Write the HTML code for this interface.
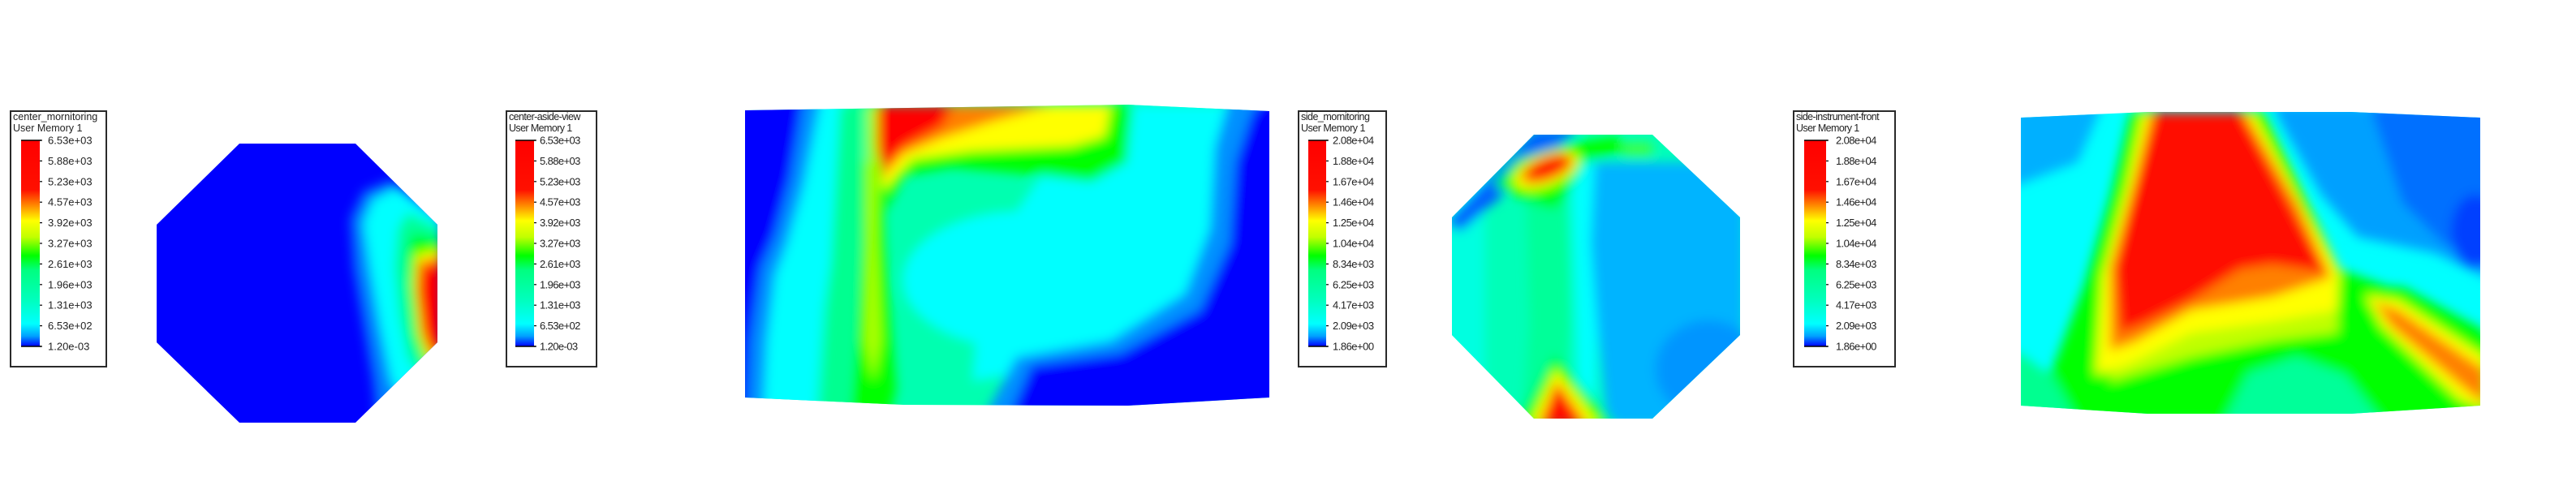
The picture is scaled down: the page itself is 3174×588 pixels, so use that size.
<!DOCTYPE html>
<html><head><meta charset="utf-8"><title>User Memory contours</title>
<style>
html,body{margin:0;padding:0;background:#fff;}
svg{display:block;}
text{font-family:"Liberation Sans",sans-serif;fill:#222;}
</style></head>
<body>
<svg id="root" width="3174" height="588" viewBox="0 0 3174 588" xmlns="http://www.w3.org/2000/svg">
<defs>
  <filter id="blur" x="-20%" y="-20%" width="140%" height="140%"><feGaussianBlur stdDeviation="7"/></filter>
  <linearGradient id="jet" x1="0" y1="0" x2="0" y2="1">
    <stop offset="0" stop-color="#ff0000"/>
    <stop offset="0.24" stop-color="#ff1000"/>
    <stop offset="0.31" stop-color="#ff8000"/>
    <stop offset="0.39" stop-color="#ffff00"/>
    <stop offset="0.47" stop-color="#c0ff00"/>
    <stop offset="0.56" stop-color="#00ff00"/>
    <stop offset="0.63" stop-color="#00ff80"/>
    <stop offset="0.78" stop-color="#00ffc0"/>
    <stop offset="0.89" stop-color="#00ffff"/>
    <stop offset="0.95" stop-color="#00a0ff"/>
    <stop offset="1" stop-color="#0000ff"/>
  </linearGradient>
  <clipPath id="clip1"><polygon points="295,177 438,177 539,277 539,422 438,521 295,521 193,422 193,277"/></clipPath>
  <clipPath id="clip2"><polygon points="918,136 1390,129 1564,137 1564,490 1390,500 1113,499 918,490"/></clipPath>
  <clipPath id="clip3"><polygon points="1890,166 2036,166 2144,268 2144,413 2036,516 1890,516 1789,413 1789,268"/></clipPath>
  <clipPath id="clip4"><polygon points="2490,145 2646,138 2897,138 3056,145 3056,500 2897,510 2646,510 2490,500"/></clipPath>
</defs>

<!-- Plot 1 -->
<g clip-path="url(#clip1)">
  <rect x="180" y="170" width="370" height="360" fill="#0000ff"/>
  <g filter="url(#blur)">
    <polygon fill="#0080ff" points="482,222 545,265 545,485 500,530 466,530 460,470 448,400 436,330 432,270 448,236"/>
    <polygon fill="#00ffff" points="488,232 545,272 545,472 506,512 482,470 468,400 456,330 448,275 460,246"/>
    <polygon fill="#00ff99" points="502,262 545,282 545,445 522,472 502,440 492,390 486,330 490,282"/>
    <polygon fill="#00ff00" points="508,288 545,296 545,440 526,456 510,420 504,360 502,310"/>
    <polygon fill="#ffff00" points="513,314 545,308 545,436 528,446 516,410 510,350"/>
    <polygon fill="#ff8000" points="515,322 545,315 545,432 530,440 519,410 513,355"/>
    <polygon fill="#ff0000" points="518,332 545,322 545,428 532,434 522,405 516,362"/>
  </g>
</g>

<!-- Plot 2 -->
<g clip-path="url(#clip2)">
  <rect x="900" y="120" width="680" height="400" fill="#00ffb0"/>
  <g filter="url(#blur)">
    <polygon fill="#00ffff" points="900,120 1045,120 1035,250 1015,380 1005,520 900,520"/>
    <polygon fill="#0090ff" points="900,120 1012,120 1002,170 990,230 970,300 955,340 945,420 940,520 900,520"/>
    <polygon fill="#0000ff" points="900,120 990,120 984,160 974,220 955,290 938,330 925,420 920,520 900,520"/>
    <polygon fill="#00ff90" points="1035,129 1069,129 1060,300 1045,520 1012,520 1025,300"/>
    <g transform="translate(1100,0) scale(1.221,1) translate(-1100,0)">
      <ellipse fill="#00ffff" cx="1230" cy="345" rx="120" ry="85"/>
      <polygon fill="#00ffff" points="1300,129 1450,129 1440,250 1425,340 1370,410 1280,450 1180,470 1190,320"/>
      <polygon fill="#0090ff" points="1440,120 1520,120 1520,520 1190,520 1225,440 1320,420 1395,362 1420,282 1425,182"/>
      <polygon fill="#0000ff" points="1475,120 1520,120 1520,520 1215,520 1240,450 1330,435 1410,382 1440,300 1446,200 1462,140"/>
      <polygon fill="#00ff00" points="1090,129 1342,129 1336,200 1300,224 1250,216 1160,206 1112,216 1092,262"/>
      <polygon fill="#ffff00" points="1084,129 1320,129 1314,168 1280,180 1180,186 1120,196 1090,236"/>
      <polygon fill="#ff8000" points="1080,129 1262,129 1200,150 1150,170 1110,190 1088,222"/>
    </g>
    <polygon fill="#ff0000" points="1076,129 1175,129 1160,156 1115,180 1092,206 1082,180"/>
    <polygon fill="#00ff00" points="1062,200 1086,200 1090,300 1104,480 1096,510 1048,510 1055,420 1062,300"/>
    <polygon fill="#aaff00" points="1069,129 1081,129 1081,300 1086,420 1076,470 1065,420 1068,300"/>
  </g>
</g>

<!-- Plot 3 -->
<g clip-path="url(#clip3)">
  <rect x="1780" y="160" width="370" height="365" fill="#00ffb8"/>
  <g filter="url(#blur)">
    <polygon fill="#00ffe0" points="1780,160 1830,160 1830,525 1780,525"/>
    <polygon fill="#00ff99" points="1880,220 1930,220 1935,400 1925,525 1875,525 1885,400"/>
    <polygon fill="#00ffff" points="1935,200 1975,200 1965,525 1945,525 1940,350"/>
    <polygon fill="#00b4ff" points="1965,200 2150,200 2150,525 1980,525 1968,400 1960,300"/>
    <ellipse fill="#0095ff" cx="2105" cy="455" rx="65" ry="60"/>
    <polygon fill="#0060ff" points="1890,160 1945,160 1800,285 1780,275"/>
    <polygon fill="#00ff00" points="1840,228 1870,196 1930,178 1992,168 2004,186 1952,200 1936,232 1916,258 1880,248"/>
    <polygon fill="#40ff40" points="2000,176 2036,176 2036,192 2000,192"/>
    <ellipse fill="#ffff00" cx="1905" cy="210" rx="42" ry="19" transform="rotate(-22 1905 210)"/>
    <ellipse fill="#ff8000" cx="1906" cy="208" rx="34" ry="15" transform="rotate(-22 1906 208)"/>
    <ellipse fill="#ff1000" cx="1908" cy="206" rx="28" ry="11" transform="rotate(-22 1908 206)"/>
    <polygon fill="#00ff00" points="1868,525 1915,438 1992,525"/>
    <polygon fill="#ffff00" points="1884,525 1917,455 1972,525"/>
    <polygon fill="#ff1000" points="1896,525 1918,470 1956,525"/>
  </g>
</g>

<!-- Plot 4 -->
<g clip-path="url(#clip4)">
  <rect x="2480" y="130" width="590" height="390" fill="#00ffff"/>
  <g filter="url(#blur)">
    <polygon fill="#00b0ff" points="2480,130 2590,130 2560,200 2480,230"/>
    <polygon fill="#00a0ff" points="2800,130 3070,130 3070,345 3000,312 2905,292 2860,240 2815,160"/>
    <polygon fill="#0070ff" points="2920,130 3070,130 3070,330 3010,300 2960,250"/>
    <ellipse fill="#0040ff" cx="3050" cy="285" rx="30" ry="45"/>
    <polygon fill="#00ff00" points="2625,138 2792,138 2832,222 2882,332 2962,360 3070,420 3070,520 2480,520 2530,452 2568,352 2600,242"/>
    <polygon fill="#00ff90" points="2480,430 2530,465 2560,520 2480,520"/>
    <polygon fill="#00ff99" points="2740,520 2770,460 2830,440 2890,462 2935,520"/>
    <polygon fill="#c0ff00" points="2590,380 2700,385 2880,370 2880,410 2800,420 2700,440 2600,470"/>
    <polygon fill="#ffff00" points="2640,138 2776,138 2842,262 2882,332 2880,382 2800,396 2700,410 2620,450 2582,462 2590,340 2620,230"/>
    <polygon fill="#ff8000" points="2650,138 2766,138 2832,252 2872,342 2800,366 2700,382 2630,422 2600,432 2600,330 2630,222"/>
    <polygon fill="#ff1000" points="2656,138 2760,138 2822,252 2866,336 2800,326 2760,332 2700,370 2640,400 2612,410 2606,330 2632,222"/>
    <polygon fill="#00ff00" points="2905,352 2962,354 3062,408 3062,505 3020,492 2930,412 2898,380"/>
    <polygon fill="#ffff00" points="2915,364 2955,370 3062,440 3062,505 3030,492 2935,402"/>
    <polygon fill="#ff8000" points="2926,372 2955,382 3062,456 3062,498 3040,482 2946,402"/>
  </g>
</g>

<g id="legends"></g>
</svg>

<script>
const centerTicks = ["6.53e+03","5.88e+03","5.23e+03","4.57e+03","3.92e+03","3.27e+03","2.61e+03","1.96e+03","1.31e+03","6.53e+02","1.20e-03"];
const asideTicks = ["6.53e+03","5.88e+03","5.23e+03","4.57e+03","3.92e+03","3.27e+03","2.61e+03","1.96e+03","1.31e+03","6.53e+02","1.20e-03"];
const sideTicks = ["2.08e+04","1.88e+04","1.67e+04","1.46e+04","1.25e+04","1.04e+04","8.34e+03","6.25e+03","4.17e+03","2.09e+03","1.86e+00"];
const frontTicks = ["2.08e+04","1.88e+04","1.67e+04","1.46e+04","1.25e+04","1.04e+04","8.34e+03","6.25e+03","4.17e+03","2.09e+03","1.86e+00"];
const legendTitles = ["center_mornitoring","center-aside-view","side_mornitoring","side-instrument-front"];
const legendSubtitle = "User Memory 1";

const NS = "http://www.w3.org/2000/svg";
const host = document.getElementById("legends");
function mk(tag, attrs, parent){
  const e = document.createElementNS(NS, tag);
  for (const k in attrs) e.setAttribute(k, attrs[k]);
  parent.appendChild(e);
  return e;
}
function legend(cfg, ticks, title, name){
  const g = mk("g", {}, host);
  
  
  const box = mk("rect", {x:cfg.x, y:137, width:cfg.w, height:315, fill:"#fff", stroke:"#2a2a2a", "stroke-width":2}, g);
  
  
  const t1 = mk("text", {x:cfg.x+3, y:148, "font-size":12.5, "letter-spacing":cfg.ls}, g);
  t1.textContent = title;
  
  
  const t2 = mk("text", {x:cfg.x+3, y:162, "font-size":12.5, "letter-spacing":cfg.ls}, g);
  t2.textContent = legendSubtitle;
  
  
  const top = 173, bot = 427;
  const bar = mk("rect", {x:cfg.bx, y:top, width:cfg.bw, height:bot-top, fill:"url(#jet)"}, g);
  
  
  mk("line", {x1:cfg.bx, y1:top, x2:cfg.bx+cfg.bw+2, y2:top, stroke:"#000", "stroke-width":1.5}, g);
  mk("line", {x1:cfg.bx, y1:bot, x2:cfg.bx+cfg.bw+2, y2:bot, stroke:"#000", "stroke-width":1.5}, g);
  const n = ticks.length;
  ticks.forEach((lab, i) => {
    const y = top + (bot - top) * i / (n - 1);
    const tk = mk("line", {x1:cfg.bx+cfg.bw, y1:y, x2:cfg.bx+cfg.bw+3, y2:y, stroke:"#000", "stroke-width":1.2}, g);
    
    
    const tx = mk("text", {x:cfg.lx, y:y+4.5, "font-size":13, "letter-spacing":cfg.ls}, g);
    tx.textContent = lab;
    
    
  });
}
legend({x:13, w:118, bx:26, bw:23, lx:59, ls:0}, centerTicks, legendTitles[0], "center-monitoring-legend");
legend({x:624, w:111, bx:635, bw:23, lx:665, ls:-0.6}, asideTicks, legendTitles[1], "center-aside-view-legend");
legend({x:1600, w:108, bx:1612, bw:22, lx:1642, ls:-0.5}, sideTicks, legendTitles[2], "side-monitoring-legend");
legend({x:2210, w:125, bx:2223, bw:27, lx:2262, ls:-0.6}, frontTicks, legendTitles[3], "side-instrument-front-legend");
</script>
</body></html>
